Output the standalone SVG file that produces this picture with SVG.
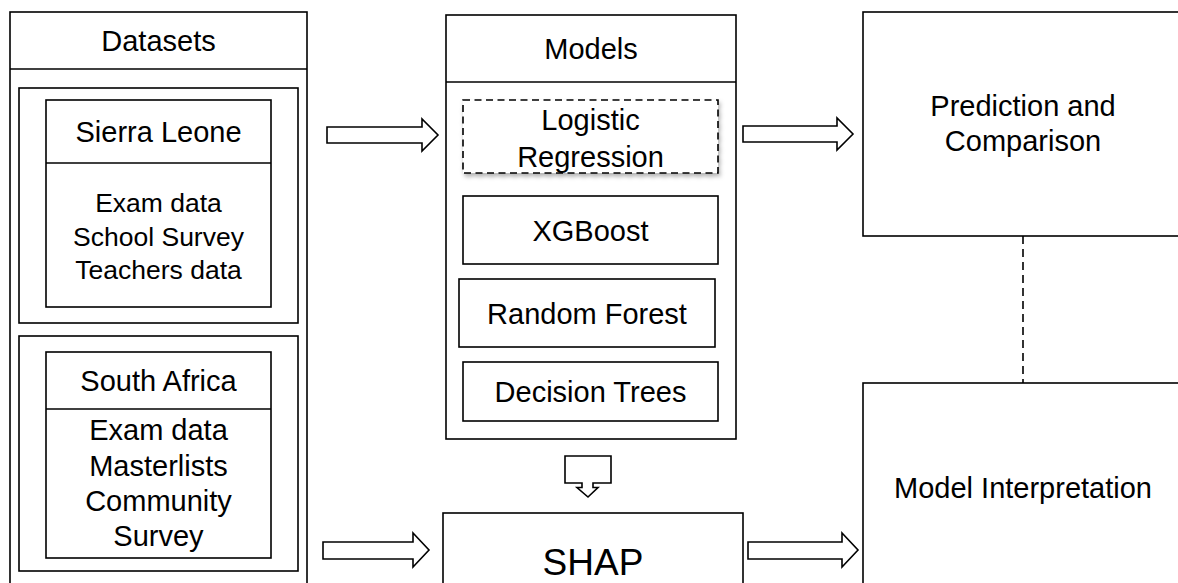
<svg xmlns="http://www.w3.org/2000/svg" width="1178" height="583" viewBox="0 0 1178 583">
<defs>
<style>
.b{fill:#fff;stroke:#000;stroke-width:1.6}
.l{fill:none;stroke:#000;stroke-width:1.6}
.t{font-family:"Liberation Sans",Arial,sans-serif;font-size:29px;fill:#000;text-anchor:middle}
.s{font-size:26.5px}
.arr{fill:#fff;stroke:#000;stroke-width:1.6;stroke-linejoin:miter}
</style>
<filter id="sh" x="-10%" y="-20%" width="120%" height="150%">
<feDropShadow dx="1.5" dy="3" stdDeviation="2.2" flood-color="#000" flood-opacity="0.3"/>
</filter>
</defs>
<rect width="1178" height="583" fill="#fff"/>

<g id="datasets">
<rect class="b" x="10" y="12" width="297" height="600"/>
<line class="l" x1="10" y1="69" x2="307" y2="69"/>
<text class="t" x="158.5" y="50.5">Datasets</text>
</g>

<g id="sierra-leone">
<rect class="b" x="19" y="88" width="279" height="235"/>
<rect class="b" x="46" y="100" width="225" height="207"/>
<line class="l" x1="46" y1="163" x2="271" y2="163"/>
<text class="t" x="158.5" y="141.5">Sierra Leone</text>
<text class="t s" x="158.5" y="212">Exam data</text>
<text class="t s" x="158.5" y="245.5">School Survey</text>
<text class="t s" x="158.5" y="279">Teachers data</text>
</g>

<g id="south-africa">
<rect class="b" x="19" y="336" width="279" height="235"/>
<rect class="b" x="46" y="352" width="225" height="206"/>
<line class="l" x1="46" y1="409" x2="271" y2="409"/>
<text class="t" x="158.5" y="391">South Africa</text>
<text class="t" x="158.5" y="440">Exam data</text>
<text class="t" x="158.5" y="476">Masterlists</text>
<text class="t" x="158.5" y="511">Community</text>
<text class="t" x="158.5" y="546">Survey</text>
</g>

<g id="models">
<rect class="b" x="446" y="15" width="290" height="424"/>
<line class="l" x1="446" y1="82" x2="736" y2="82"/>
<text class="t" x="591" y="58.5">Models</text>
</g>

<g id="logistic-regression">
<rect x="463" y="100" width="255" height="73" fill="#fff" stroke="#000" stroke-width="1.6" stroke-dasharray="7 4.5" filter="url(#sh)"/>
<text class="t" x="590.5" y="130">Logistic</text>
<text class="t" x="590.5" y="167">Regression</text>
</g>

<g id="xgboost">
<rect class="b" x="463" y="196" width="255" height="68"/>
<text class="t" x="590.5" y="240.5">XGBoost</text>
</g>

<g id="random-forest">
<rect class="b" x="459" y="279" width="256" height="68"/>
<text class="t" x="587" y="323.5">Random Forest</text>
</g>

<g id="decision-trees">
<rect class="b" x="463" y="362" width="255" height="59"/>
<text class="t" x="590.5" y="402">Decision Trees</text>
</g>

<g id="shap">
<rect class="b" x="443" y="513" width="300" height="100"/>
<text class="t" x="593" y="575" style="font-size:37px">SHAP</text>
</g>

<g id="prediction">
<rect class="b" x="863" y="12" width="330" height="224"/>
<text class="t" x="1023" y="116">Prediction and</text>
<text class="t" x="1023" y="151">Comparison</text>
</g>

<g id="interpretation">
<rect class="b" x="863" y="383" width="330" height="230"/>
<text class="t" x="1023" y="498">Model Interpretation</text>
</g>

<g id="connectors">
<path class="arr" d="M327,127 H422 V119 L438,135 L422,151 V143 H327 Z"/>
<path class="arr" d="M743,126 H837 V118 L853,134 L837,150 V142 H743 Z"/>
<path class="arr" d="M565,456 H611 V483 H593 V487.5 H598 L588,497 L577,487.5 H582 V483 H565 Z"/>
<path class="arr" d="M323,542 H413 V533 L429,550 L413,567 V559 H323 Z"/>
<path class="arr" d="M748,542 H842 V533 L858,550 L842,567 V559 H748 Z"/>
<line x1="1023" y1="236" x2="1023" y2="383" stroke="#000" stroke-width="1.6" stroke-dasharray="8 5"/>
</g>
</svg>
